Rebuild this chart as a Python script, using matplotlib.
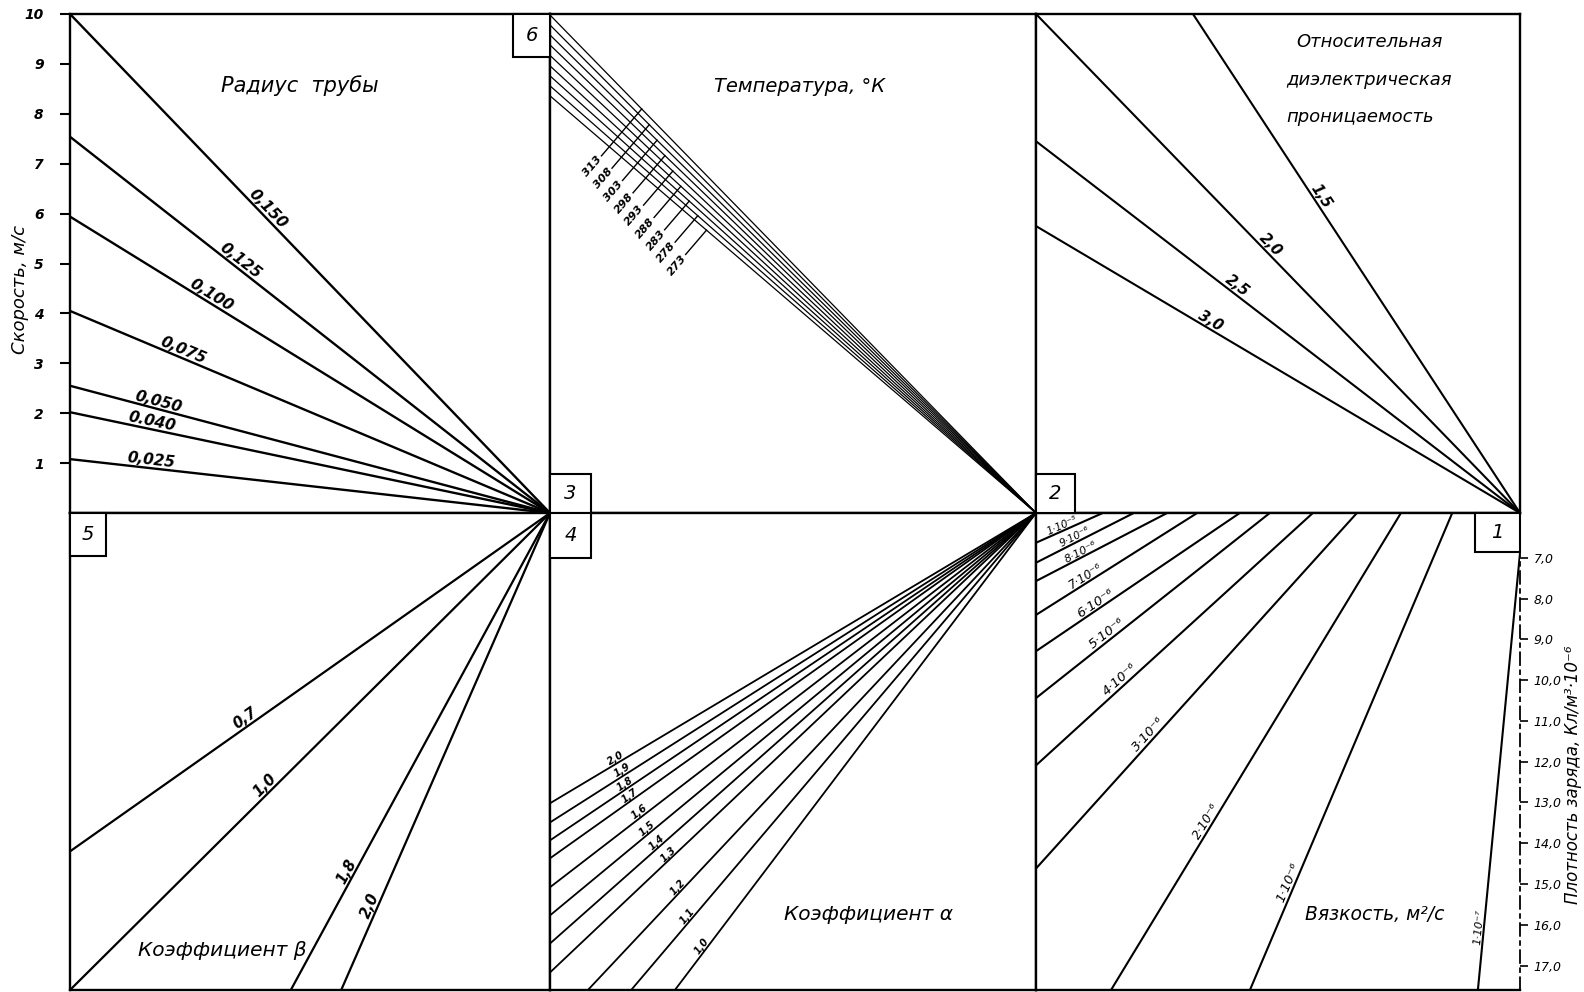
import numpy as np
import matplotlib.pyplot as plt
from matplotlib.patches import Rectangle

plt.rcParams['font.family'] = ['DejaVu Sans']

W, H = 1584, 992

# ---- values ----
speed_ticks = [1, 2, 3, 4, 5, 6, 7, 8, 9, 10]
density_ticks = [7, 8, 9, 10, 11, 12, 13, 14, 15, 16, 17]

# panel "Радиус трубы": speed where each line meets the left axis
radius_labels = ['0,150', '0,125', '0,100', '0,075', '0,050', '0.040', '0,025']
radius_speed = [10.0, 7.54, 5.94, 4.05, 2.55, 2.02, 1.08]

# panel "Температура": speed where each line meets the left axis
temp_labels = ['313', '308', '303', '298', '293', '288', '283', '278', '273']
temp_speed = [9.98, 9.78, 9.58, 9.38, 9.17, 8.96, 8.76, 8.56, 8.36]

# panel "диэлектрическая проницаемость" (1,5 runs off the top edge)
eps_labels = ['1,5', '2,0', '2,5', '3,0']
eps_speed = [14.8, 10.0, 7.45, 5.75]

# panel "Коэффициент β": density on left axis, or fraction of width on bottom edge
beta_labels = ['0,7', '1,0', '1,8', '2,0']
beta_density = [14.2, 17.6, None, None]
beta_bottom = [None, None, 0.46, 0.565]

# panel "Коэффициент α"
alpha_labels = ['2,0', '1,9', '1,8', '1,7', '1,6', '1,5', '1,4', '1,3', '1,2', '1,1', '1,0']
alpha_density = [13.02, 13.49, 13.93, 14.37, 15.08, 15.77, 16.46, 17.17, None, None, None]
alpha_bottom = [None] * 8 + [0.078, 0.167, 0.257]

# panel "Вязкость"
visc_labels = ['1·10⁻⁵', '9·10⁻⁶', '8·10⁻⁶', '7·10⁻⁶', '6·10⁻⁶', '5·10⁻⁶',
               '4·10⁻⁶', '3·10⁻⁶', '2·10⁻⁶', '1·10⁻⁶', '1·10⁻⁷']
visc_density = [6.63, 7.12, 7.57, 8.40, 9.29, 10.44, 12.09, 14.62, None, None, None]
visc_bottom = [None] * 8 + [0.155, 0.442, 0.913]
visc_top = [0.138, 0.202, 0.271, 0.333, 0.421, 0.483, 0.572, 0.663, 0.754, 0.860, 1.008]

# label positions along each line (fraction of the drawn segment)
radius_lpos = [0.40, 0.345, 0.287, 0.23, 0.18, 0.167, 0.167]
eps_lpos = [0.576, 0.473, 0.405, 0.353]
beta_lpos = [0.375, 0.417, 0.24, 0.17]
alpha_lpos = [0.14, 0.154, 0.16, 0.169, 0.19, 0.206, 0.226, 0.25, 0.208, 0.148, 0.085]
visc_lpos = [0.42, 0.42, 0.36, 0.33, 0.31, 0.32, 0.32, 0.365, 0.346, 0.22, 0.13]
visc_lsize = [7.5, 7.5, 8, 8.5, 9.5, 9.5, 9.5, 9.5, 9, 9.5, 8]

# ---- layout (pixels) ----
XL, X1, X2, XR = 70, 550, 1036, 1520
YT, YM, YB = 14, 513, 990
D_TOP, D_BOT = 5.9, 17.6

fig = plt.figure(figsize=(W / 100, H / 100), dpi=100)


def panel(x0, x1, y0, y1):
    ax = fig.add_axes([x0 / W, 1 - y1 / H, (x1 - x0) / W, (y1 - y0) / H])
    ax.set_xlim(0, 1)
    ax.set_xticks([])
    ax.set_yticks([])
    for s in ax.spines.values():
        s.set_linewidth(1.7)
    return ax


def line_label(ax, p0, p1, f, text, size, weight='normal'):
    x = p0[0] + f * (p1[0] - p0[0])
    y = p0[1] + f * (p1[1] - p0[1])
    a, b = ax.transData.transform([p0, p1])
    ang = np.degrees(np.arctan2(b[1] - a[1], b[0] - a[0]))
    if ang > 90:
        ang -= 180
    if ang < -90:
        ang += 180
    ax.text(x, y, text, rotation=ang, rotation_mode='anchor', ha='center', va='bottom',
            fontsize=size, style='italic', weight=weight, clip_on=False)


ax_r = panel(XL, X1, YT, YM)
ax_t = panel(X1, X2, YT, YM)
ax_e = panel(X2, XR, YT, YM)
ax_b = panel(XL, X1, YM, YB)
ax_a = panel(X1, X2, YM, YB)
ax_v = panel(X2, XR, YM, YB)

for ax in (ax_r, ax_t, ax_e):
    ax.set_ylim(0, 10)
for ax in (ax_b, ax_a, ax_v):
    ax.set_ylim(D_BOT, D_TOP)

# speed axis
ax_r.set_yticks(speed_ticks)
ax_r.set_yticklabels([str(v) for v in speed_ticks], fontsize=10, style='italic', weight='bold')
ax_r.tick_params(axis='y', direction='out', length=7, width=1.5, pad=12)

# radius fan
for lab, v0, f in zip(radius_labels, radius_speed, radius_lpos):
    ax_r.plot([0, 1], [v0, 0], color='black', lw=1.7)
    line_label(ax_r, (0, v0), (1, 0), f, lab, 11, 'bold')

# temperature fan
for v0 in temp_speed:
    ax_t.plot([0, 1], [v0, 0], color='black', lw=0.9)

tr = ax_t.transData
vb = temp_speed[-1]
q_end = tr.transform((1, 0))
dvec = q_end - tr.transform((0, vb))
dvec = dvec / np.hypot(*dvec)
nvec = np.array([-dvec[1], dvec[0]])
tick_ang = np.degrees(np.arctan2(nvec[1], nvec[0]))
for i, (lab, v0) in enumerate(zip(temp_labels, temp_speed)):
    t = 0.122 + 0.025 * i
    pb = tr.transform((t, vb * (1 - t)))
    foot = pb - nvec * (12 + 2.5 * i)
    q0 = tr.transform((0, v0))
    A = np.column_stack([nvec, -(q_end - q0)])
    s, _ = np.linalg.solve(A, q0 - foot)
    tip = foot + s * nvec
    f_d, t_d = tr.inverted().transform([foot, tip])
    ax_t.plot([f_d[0], t_d[0]], [f_d[1], t_d[1]], color='black', lw=1.0)
    lab_pt = tr.inverted().transform(foot - nvec * 2)
    ax_t.text(lab_pt[0], lab_pt[1], lab, rotation=tick_ang, rotation_mode='anchor',
              ha='right', va='center', fontsize=8, style='italic', weight='bold')

# dielectric fan
for lab, v0, f in zip(eps_labels, eps_speed, eps_lpos):
    ax_e.plot([0, 1], [v0, 0], color='black', lw=1.5)
    line_label(ax_e, (0, v0), (1, 0), f, lab, 10.5, 'bold')

# beta and alpha fans, meeting at the top-right corner
for ax, labs, dens, bots, lpos, size, lw in (
        (ax_b, beta_labels, beta_density, beta_bottom, beta_lpos, 10.5, 1.6),
        (ax_a, alpha_labels, alpha_density, alpha_bottom, alpha_lpos, 7, 1.3)):
    for lab, d, xb, f in zip(labs, dens, bots, lpos):
        p0 = (0, d) if d is not None else (xb, D_BOT)
        p1 = (1, D_TOP)
        ax.plot([p0[0], p1[0]], [p0[1], p1[1]], color='black', lw=lw)
        line_label(ax, p0, p1, f, lab, size, 'bold')

# viscosity lines
for lab, d, xb, xt, f, sz in zip(visc_labels, visc_density, visc_bottom, visc_top,
                                 visc_lpos, visc_lsize):
    p0 = (0, d) if d is not None else (xb, D_BOT)
    p1 = (xt, D_TOP)
    ax_v.plot([p0[0], p1[0]], [p0[1], p1[1]], color='black', lw=1.5)
    line_label(ax_v, p0, p1, f, lab, sz)

# density axis on the right
ax_v.yaxis.tick_right()
ax_v.set_yticks(density_ticks)
ax_v.set_yticklabels([f'{v},0' for v in density_ticks], fontsize=9, style='italic')
ax_v.tick_params(axis='y', direction='out', length=6, width=1.2, pad=4)
ax_v.spines['right'].set_linestyle((0, (7, 3, 2, 3)))
ax_v.spines['right'].set_linewidth(1.3)

# overlay for boxes and captions
ov = fig.add_axes([0, 0, 1, 1], zorder=10)
ov.set_xlim(0, W)
ov.set_ylim(H, 0)
ov.axis('off')
ov.patch.set_alpha(0)

boxes = [('6', X1 - 37, YT, 37, 43), ('3', X1, YM - 39, 41, 39), ('4', X1, YM, 41, 45),
         ('5', XL, YM, 36, 43), ('2', X2, YM - 39, 39, 39), ('1', XR - 45, YM, 45, 39)]
for num, bx, by, bw, bh in boxes:
    ov.add_patch(Rectangle((bx, by), bw, bh, facecolor='white', edgecolor='black', lw=1.5))
    ov.text(bx + bw / 2, by + bh / 2, num, ha='center', va='center', fontsize=14, style='italic')

cap = dict(ha='center', va='center', style='italic')
ov.text(20, 290, 'Скорость, м/с', fontsize=13, rotation=90, **cap)
ov.text(300, 86, 'Радиус  трубы', fontsize=15, **cap)
ov.text(800, 86, 'Температура, °К', fontsize=14, **cap)
ov.text(1369, 42, 'Относительная', fontsize=13, **cap)
ov.text(1369, 80, 'диэлектрическая', fontsize=13, **cap)
ov.text(1360, 117, 'проницаемость', fontsize=13, **cap)
ov.text(222, 950, 'Коэффициент β', fontsize=14.5, **cap)
ov.text(869, 914, 'Коэффициент α', fontsize=14.5, **cap)
ov.text(1375, 915, 'Вязкость, м²/с', fontsize=13.5, **cap)
ov.text(1573, 775, 'Плотность заряда, Кл/м³·10⁻⁶', fontsize=12, rotation=90, **cap)

fig.savefig('out.png', dpi=100)
